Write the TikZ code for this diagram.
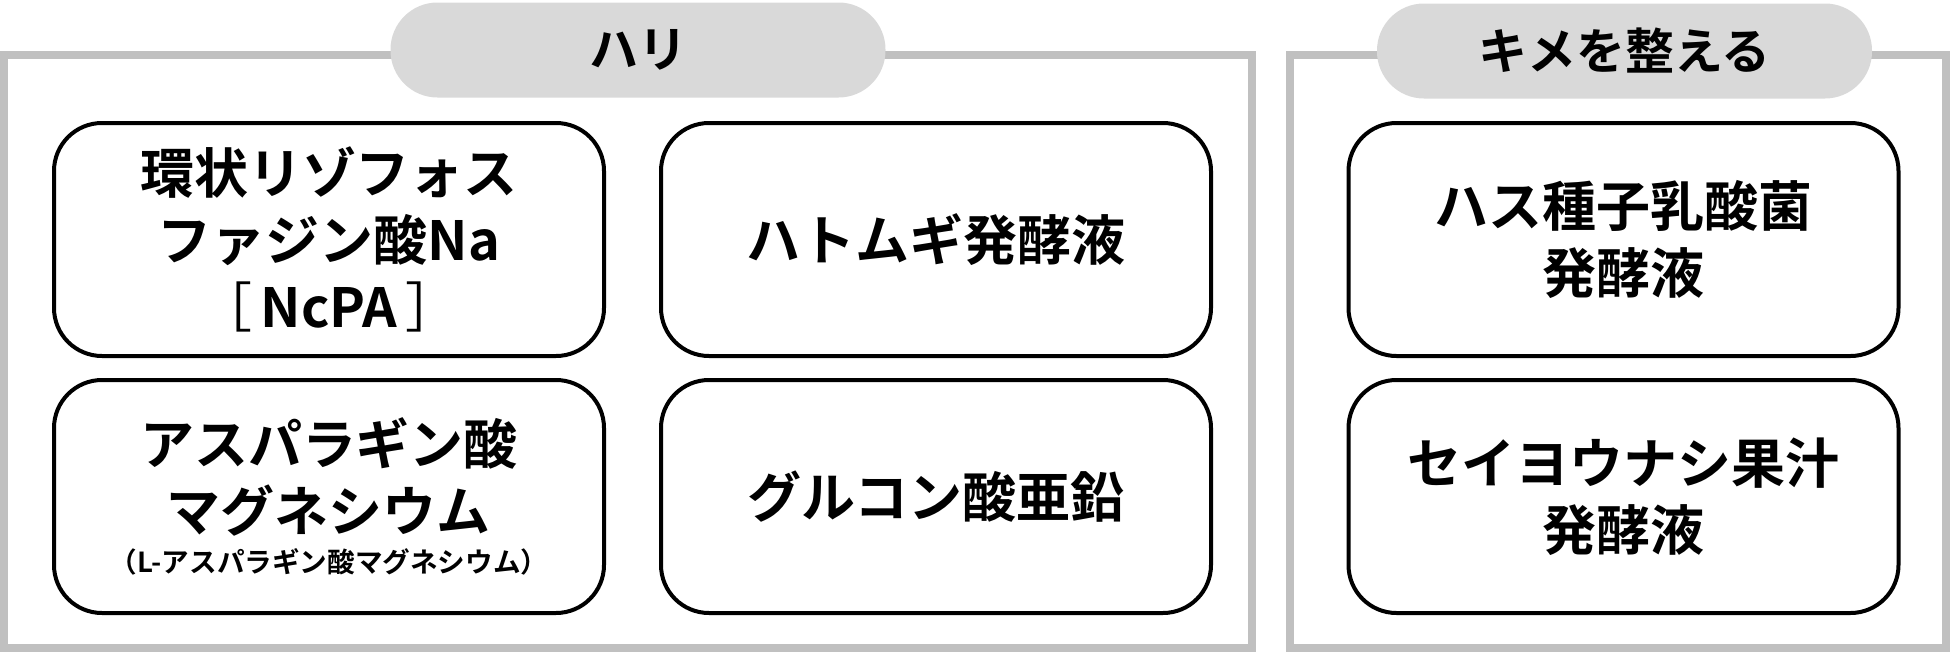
\documentclass[tikz,border=0pt]{standalone}
\usepackage{fontspec}
\setmainfont{Noto Sans CJK JP}[BoldFont={Noto Sans CJK JP Bold}]
\usetikzlibrary{positioning}

\definecolor{frameg}{RGB}{192,192,192}
\definecolor{tabg}{RGB}{217,217,217}

\begin{document}
\begin{tikzpicture}[
  x=0.5pt, y=-0.5pt,
  font=\bfseries\fontsize{27}{33.5}\selectfont,
  node distance=10pt and 26.5pt,
  frame/.style={rectangle, draw=frameg, line width=4pt, minimum width=#1, minimum height=296.5pt},
  tab/.style={rectangle, fill=tabg, rounded corners=23.5pt, minimum width=247.5pt, minimum height=47.5pt, font=\bfseries\fontsize{24.5}{28}\selectfont},
  item/.style={rectangle, draw, line width=2pt, rounded corners=24pt, minimum width=275pt, minimum height=116.5pt, align=center}
]
  \useasboundingbox (0,0) rectangle (1950,653);
  % frames and their titles
  \node[frame=624pt] (hari) at (628,351.5) {};
  \node[frame=328pt] (kime) at (1618,351.5) {};
  \node[tab] (harit) at (638,50) {ハリ};
  \node[tab] (kimet) at (1624.5,51) {キメを整える};
  % ハリ
  \node[item] (ncpa) at (329,239.5) {環状リゾフォス\\ファジン酸Na\\{\mdseries［}\hspace{4pt}NcPA\hspace{4pt}{\mdseries］}};
  \node[item, right=of ncpa] (hatomugi) {ハトムギ発酵液};
  \node[item, below=of ncpa] (asp) {アスパラギン酸\\マグネシウム\\[-13pt]{\fontsize{13.8}{16}\selectfont （L-アスパラギン酸マグネシウム）}};
  \node[item, below=of hatomugi] (zinc) {グルコン酸亜鉛};
  % キメを整える
  \node[item] (hasu) at (1623.5,239.5) {ハス種子乳酸菌\\発酵液};
  \node[item, below=of hasu] (yonashi) {セイヨウナシ果汁\\発酵液};
\end{tikzpicture}
\end{document}
